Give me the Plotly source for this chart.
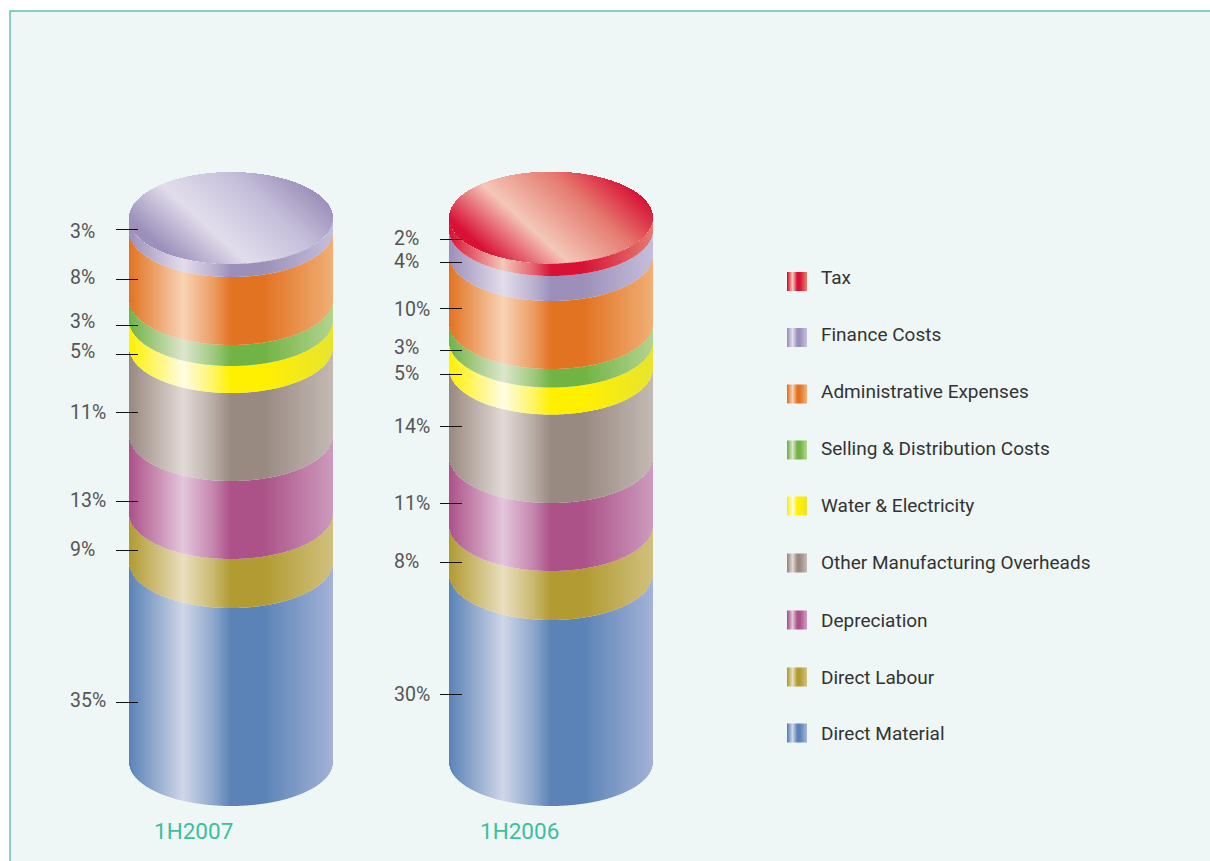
import numpy as np
import plotly.graph_objects as go

# ---------- data ----------
categories = ["Direct Material", "Direct Labour", "Depreciation", "Other Manufacturing Overheads",
              "Water & Electricity", "Selling & Distribution Costs", "Administrative Expenses",
              "Finance Costs", "Tax"]
pct_2007 = [35, 9, 13, 11, 5, 3, 8, 3, None]
pct_2006 = [30, 8, 11, 14, 5, 3, 10, 4, 2]
# drawn band heights (the source art is not to scale)
band_2007 = [198, 49, 78, 88, 27, 21, 68, 13, None]
band_2006 = [186, 49, 68, 88.5, 27, 18.5, 68, 25, 12.5]
period_labels = ["1H2007", "1H2006"]

# ---------- styles ----------
dark = ["#5B83B7", "#B19B32", "#AC5288", "#998A81", "#FFF000", "#71B344", "#E27322", "#9C90BA", "#D81236"]
light = ["#D0D6E8", "#E9DFBF", "#E4C6DC", "#E2D9D6", "#FFFCE4", "#DCE6CC", "#F8D3B5", "#E2DDEC", "#F4C7B8"]
end = ["#A3B2D6", "#D0C07D", "#CC9ABD", "#C3B9B3", "#E8E42E", "#B3D38E", "#F0AE75", "#C5BEDA", "#E57A6F"]
FONT = "Roboto"
PANEL = "#EEF7F6"
BORDER = "#62C3AC"
TEAL = "#3DBE9F"

CYL_W = 204
RY = 46
RY_BOTTOM = 44
FLOOR = 806
cyl_left = [129.5, 449.5]
tick_y_2007 = [702, 550, 501, 412, 354, 325, 279, 229, None]
tick_y_2006 = [694, 562, 503, 426, 374, 350, 308, 262, 239]
text_y_2007 = [702, 551, 502, 414, 353, 323, 279, 233, None]
text_y_2006 = [696, 563, 505, 428, 375, 349, 311, 263, 240]
legend_box_y = [733, 677, 620, 563, 506, 450, 394, 337.5, 281.5]
legend_text_y = [735, 679, 622, 564, 507, 450, 393, 336, 279]


def rgb(h):
    return np.array([int(h[i:i + 2], 16) for i in (1, 3, 5)], float)


def side_colors(i, t):
    d, l, e = rgb(dark[i]), rgb(light[i]), rgb(end[i])
    mid = 0.55 * d + 0.45 * l
    pos = [0, .265, .41, .50, .66, 1]
    stops = np.array([d, l, mid, d, d, e])
    chan = [np.interp(t, pos, stops[:, c]) for c in range(3)]
    return [f"rgb({r:.0f},{g:.0f},{b:.0f})" for r, g, b in zip(*chan)]


fig = go.Figure()


def cylinder(left, bands, period):
    xs = left + np.arange(CYL_W)
    cx = left + CYL_W / 2 - .5
    u = (xs - cx) / (CYL_W / 2)
    arc = np.sqrt(np.clip(1 - u ** 2, 0, 1))
    t = (xs - left) / (CYL_W - 1)
    lower = FLOOR - RY_BOTTOM + RY_BOTTOM * arc
    front = FLOOR
    top_i = 0
    for i, h in enumerate(bands):
        if h is None:
            continue
        front -= h
        upper = front - RY + RY * arc
        fig.add_trace(go.Bar(x=xs, base=upper, y=lower - upper, width=1,
                             marker=dict(color=side_colors(i, t), line=dict(width=0)),
                             hoverinfo="skip", showlegend=False, name=f"{categories[i]} {period}"))
        lower = upper
        top_i = i
    # top cap: diagonal sheen
    cy = front - RY
    gy = np.arange(int(cy - RY) - 1, int(cy + RY) + 2) + .5
    gx = xs
    X, Y = np.meshgrid(gx, gy)
    s = (X - cx) * .67 - (Y - cy) * .74
    z = (s + 76) / 152
    z[((X - cx) / (CYL_W / 2)) ** 2 + ((Y - cy) / RY) ** 2 > 1] = np.nan
    d, l, e = dark[top_i], light[top_i], end[top_i]
    fig.add_trace(go.Heatmap(x=gx, y=gy, z=z, zmin=0, zmax=1, showscale=False, hoverinfo="skip",
                             colorscale=[[0, d], [.05, d], [.36, l], [.72, e], [1, d]]))


cylinder(cyl_left[0], band_2007, period_labels[0])
cylinder(cyl_left[1], band_2006, period_labels[1])

# tick marks and percentage labels
for ticks_y, text_y, pct, tx0, tx1, lab_x in [(tick_y_2007, text_y_2007, pct_2007, 116, 138, 70),
                                              (tick_y_2006, text_y_2006, pct_2006, 440, 462, 394)]:
    for ty, ly, p in zip(ticks_y, text_y, pct):
        if p is None:
            continue
        fig.add_trace(go.Scatter(x=[tx0, tx1], y=[ty + .5, ty + .5], mode="lines", hoverinfo="skip", showlegend=False,
                                 line=dict(color="#111111", width=1)))
        fig.add_trace(go.Scatter(x=[lab_x], y=[ly], mode="text", text=[f"{p}%"], textposition="middle right",
                                 hoverinfo="skip", showlegend=False,
                                 textfont=dict(family=FONT, size=19.5, color="#555555")))

# legend
sw_x = 787 + np.arange(20) + .5
for i, (name, by, ty) in enumerate(zip(categories, legend_box_y, legend_text_y)):
    fig.add_trace(go.Bar(x=sw_x, base=[by - 9.5] * 20, y=[19] * 20, width=1,
                         marker=dict(color=side_colors(i, np.arange(20) / 19), line=dict(width=0)),
                         hoverinfo="skip", showlegend=False))
    fig.add_trace(go.Scatter(x=[821], y=[ty], mode="text", text=[name], textposition="middle right",
                             hoverinfo="skip", showlegend=False,
                             textfont=dict(family=FONT, size=19, color="#333333")))

# period labels
for lab, x in zip(period_labels, [154, 480]):
    fig.add_trace(go.Scatter(x=[x], y=[833], mode="text", text=[lab], textposition="middle right",
                             hoverinfo="skip", showlegend=False,
                             textfont=dict(family=FONT, size=22.5, color=TEAL)))

fig.update_layout(
    width=1210, height=861, margin=dict(l=0, r=0, t=0, b=0),
    paper_bgcolor="white", plot_bgcolor="white", barmode="overlay", showlegend=False,
    xaxis=dict(range=[0, 1210], visible=False, fixedrange=True),
    yaxis=dict(range=[861, 0], visible=False, fixedrange=True),
    shapes=[dict(type="rect", xref="x", yref="y", x0=10, y0=11, x1=1300, y1=900, layer="below",
                 fillcolor=PANEL, line=dict(color=BORDER, width=1.5))],
)

fig.write_html("out.html", config={"displayModeBar": False},
               post_script="document.body.style.margin='0';document.body.style.overflow='hidden';")
